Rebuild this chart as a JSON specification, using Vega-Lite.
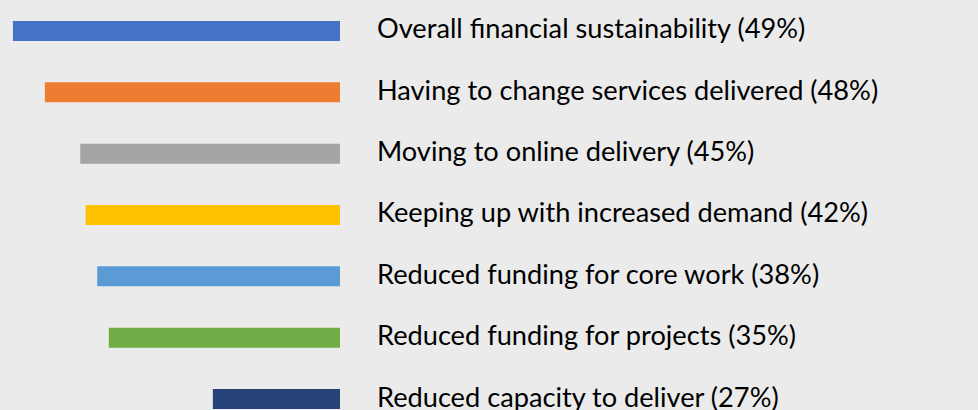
{
  "$schema": "https://vega.github.io/schema/vega-lite/v6.json",
  "width": 978,
  "height": 410,
  "padding": 0,
  "autosize": {"type": "none"},
  "background": "#ebebeb",
  "config": {"view": {"stroke": null}},
  "data": {
    "values": [
      {"label": "Overall financial sustainability (49%)", "value": 48.1},
      {"label": "Having to change services delivered (48%)", "value": 43.4},
      {"label": "Moving to online delivery (45%)", "value": 38.2},
      {"label": "Keeping up with increased demand (42%)", "value": 37.4},
      {"label": "Reduced funding for core work (38%)", "value": 35.7},
      {"label": "Reduced funding for projects (35%)", "value": 34.0},
      {"label": "Reduced capacity to deliver (27%)", "value": 18.7}
    ]
  },
  "encoding": {
    "y": {
      "field": "label",
      "type": "nominal",
      "sort": null,
      "axis": null,
      "scale": {"paddingInner": 0.674, "paddingOuter": 0.179, "align": 0.955}
    }
  },
  "layer": [
    {
      "mark": {"type": "bar", "orient": "horizontal"},
      "encoding": {
        "x": {
          "field": "value",
          "type": "quantitative",
          "axis": null,
          "scale": {"domain": [0, 50], "range": [340, 0]}
        },
        "color": {
          "field": "label",
          "type": "nominal",
          "sort": null,
          "legend": null,
          "scale": {
            "domain": [
              "Overall financial sustainability (49%)",
              "Having to change services delivered (48%)",
              "Moving to online delivery (45%)",
              "Keeping up with increased demand (42%)",
              "Reduced funding for core work (38%)",
              "Reduced funding for projects (35%)",
              "Reduced capacity to deliver (27%)"
            ],
            "range": ["#4472C4", "#ED7D31", "#A5A5A5", "#FFC000", "#5B9BD5", "#70AD47", "#264478"]
          }
        }
      }
    },
    {
      "mark": {
        "type": "text",
        "align": "left",
        "baseline": "alphabetic",
        "dx": 37,
        "dy": 7.5,
        "font": "Lato",
        "fontSize": 27.2,
        "color": "#000000"
      },
      "encoding": {
        "x": {"datum": 0},
        "text": {"field": "label"}
      }
    }
  ]
}
